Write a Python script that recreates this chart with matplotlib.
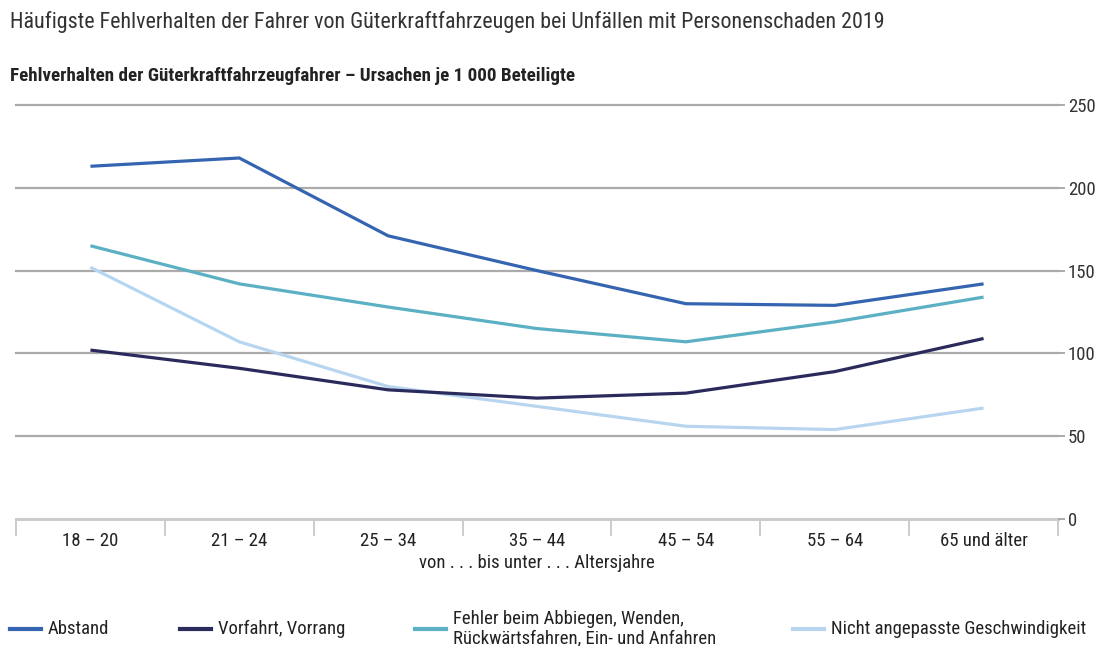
import matplotlib
matplotlib.use("Agg")
import matplotlib.pyplot as plt
from matplotlib import font_manager
from matplotlib.lines import Line2D

names = {f.name for f in font_manager.fontManager.ttflist}
fam = [n for n in ["Roboto Condensed", "Liberation Sans Narrow", "Liberation Sans", "DejaVu Sans"] if n in names]
plt.rcParams['font.family'] = fam

categories = ["18 – 20", "21 – 24", "25 – 34", "35 – 44", "45 – 54", "55 – 64", "65 und älter"]
abstand = [213, 218, 171, 150, 130, 129, 142]
vorfahrt = [102, 91, 78, 73, 76, 89, 109]
abbiegen = [165, 142, 128, 115, 107, 119, 134]
geschw = [152, 107, 80, 68, 56, 54, 67]
series_labels = ["Abstand", "Vorfahrt, Vorrang",
                 "Fehler beim Abbiegen, Wenden,\nRückwärtsfahren, Ein- und Anfahren",
                 "Nicht angepasste Geschwindigkeit"]
colors = ["#3565b0", "#2b2a5c", "#5bb0c3", "#b8d5f0"]
yticks = [0, 50, 100, 150, 200, 250]

W, H = 1098, 646
fig = plt.figure(figsize=(W / 100, H / 100), dpi=100)
ax = fig.add_axes([16 / W, 1 - 519 / H, (1058 - 16) / W, (519 - 105) / H])

x = list(range(len(categories)))
data = [abstand, vorfahrt, abbiegen, geschw]
for i in [3, 2, 1, 0]:
    ax.plot(x, data[i], color=colors[i], lw=2.3, solid_capstyle='butt', zorder=3 + (3 - i))

ax.set_xlim(-0.5, len(categories) - 0.5)
ax.set_ylim(0, 250)
for y in yticks[1:]:
    ax.axhline(y, color="#ababab", lw=1.6, zorder=1, clip_on=False)
ax.axhline(0, color="#cccccc", lw=2.2, zorder=1, clip_on=False)

for s in ax.spines.values():
    s.set_visible(False)

ax.yaxis.tick_right()
ax.set_yticks(yticks)
ax.set_yticklabels([str(v) for v in yticks], fontsize=13.5, color="#333333")
ax.tick_params(axis='y', length=5, width=1.4, color="#ababab", pad=2)

ax.set_xticks([i - 0.5 for i in range(len(categories) + 1)], minor=False)
ax.set_xticklabels([])
ax.tick_params(axis='x', which='major', length=12, width=1.4, color="#cccccc", direction='out')
ax.set_xticks(x, minor=True)
ax.set_xticklabels(categories, minor=True, fontsize=13.5, color="#222222")
ax.tick_params(axis='x', which='minor', length=0, pad=9)

ax.set_xlabel("von . . . bis unter . . . Altersjahre", fontsize=13.5, color="#222222", labelpad=3)

fig.text(10 / W, 1 - 22 / H, "Häufigste Fehlverhalten der Fahrer von Güterkraftfahrzeugen bei Unfällen mit Personenschaden 2019",
         fontsize=15.8, color="#333333", va='center', ha='left')
fig.text(10 / W, 1 - 76 / H, "Fehlverhalten der Güterkraftfahrzeugfahrer – Ursachen je 1 000 Beteiligte",
         fontsize=13.7, color="#222222", va='center', ha='left', fontweight='bold')

# legend
leg_x = [10, 180, 415, 793]
for lx, c, lab in zip(leg_x, colors, series_labels):
    yy = 1 - 629 / H
    fig.add_artist(Line2D([lx / W, (lx + 31) / W], [yy, yy], color=c, lw=3, transform=fig.transFigure))
    fig.text((lx + 38) / W, yy, lab, fontsize=13.5, color="#222222", va='center', ha='left', linespacing=1.1)

fig.savefig("out.png", dpi=100, facecolor="white")
